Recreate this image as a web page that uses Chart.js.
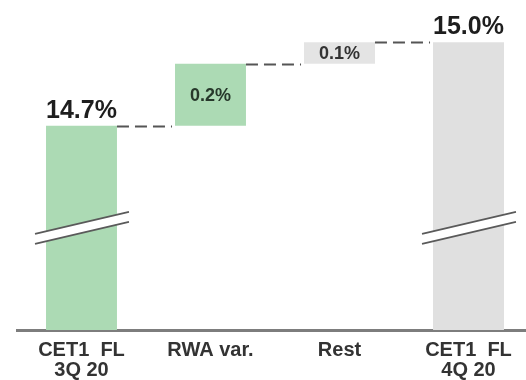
<!DOCTYPE html>
<html>
<head>
<meta charset="utf-8">
<script src="https://cdn.jsdelivr.net/npm/chart.js@4"></script>
<style>
  html, body { margin: 0; padding: 0; background: #fff; overflow: hidden; }
  canvas { display: block; }
</style>
</head>
<body>
<canvas id="myChart" width="534" height="380"></canvas>
<script>
// categorias y valores (CET1 fully loaded, 3Q20 -> 4Q20)
const categories = [['CET1  FL', '3Q 20'], 'RWA var.', 'Rest', ['CET1  FL', '4Q 20']];
const values = [14.7, 0.2, 0.07, 14.97];
const kinds = ['total', 'delta', 'delta', 'total'];
const barColors = ['#acdab4', '#acdab4', '#e4e4e4', '#e0e0e0'];

const Y_MIN = 14.04;
const Y_MAX = 15.09;

// barras flotantes: totales desde la base, variaciones desde el acumulado
let running = 0;
const floating = values.map((v, i) => {
    if (kinds[i] === 'total') {
        running = v;
        return [Y_MIN, v];
    }
    const from = running;
    running = running + v;
    return [from, running];
});

const waterfallDeco = {
    id: 'waterfallDeco',
    afterDatasetsDraw(chart) {
        const ctx = chart.ctx;
        const meta = chart.getDatasetMeta(0);
        const y = chart.scales.y;
        const bars = meta.data;

        // lineas discontinuas entre barras
        ctx.save();
        ctx.strokeStyle = '#555';
        ctx.lineWidth = 2;
        ctx.setLineDash([12, 6]);
        for (let i = 0; i < bars.length - 1; i++) {
            const level = floating[i][1];
            const py = Math.round(y.getPixelForValue(level)) + 0.5;
            const x0 = bars[i].x + bars[i].width / 2;
            const x1 = bars[i + 1].x - bars[i + 1].width / 2 - 3;
            ctx.beginPath();
            ctx.moveTo(x0, py);
            ctx.lineTo(x1, py);
            ctx.stroke();
        }
        ctx.restore();

        // marcas de corte del eje en las barras totales
        const breakY = y.getPixelForValue(14.37);
        kinds.forEach((k, i) => {
            if (k !== 'total') return;
            const b = bars[i];
            const xl = b.x - b.width / 2 - 11;
            const xr = b.x + b.width / 2 + 12;
            const half = (xr - xl) / 2;
            const rise = 11;
            ctx.save();
            ctx.fillStyle = '#fff';
            ctx.beginPath();
            ctx.moveTo(xl, breakY + rise - 5);
            ctx.lineTo(xr, breakY - rise - 5);
            ctx.lineTo(xr, breakY - rise + 5);
            ctx.lineTo(xl, breakY + rise + 5);
            ctx.closePath();
            ctx.fill();
            ctx.strokeStyle = '#5a5a5a';
            ctx.lineWidth = 1.6;
            [-5, 5].forEach(off => {
                ctx.beginPath();
                ctx.moveTo(xl, breakY + rise + off);
                ctx.lineTo(xr, breakY - rise + off);
                ctx.stroke();
            });
            ctx.restore();
        });

        // etiquetas de valor
        ctx.save();
        ctx.textAlign = 'center';
        bars.forEach((b, i) => {
            const txt = values[i].toFixed(1) + '%';
            if (kinds[i] === 'total') {
                ctx.font = 'bold 25px "Liberation Sans", Arial, sans-serif';
                ctx.fillStyle = '#1e1e1e';
                ctx.textBaseline = 'alphabetic';
                ctx.fillText(txt, b.x, b.y - 8);
            } else {
                ctx.font = 'bold 18px "Liberation Sans", Arial, sans-serif';
                ctx.fillStyle = i === 1 ? '#27382b' : '#333';
                ctx.textBaseline = 'middle';
                ctx.fillText(txt, b.x, (b.y + b.base) / 2 + 1);
            }
        });
        ctx.restore();
    }
};

const ctx = document.getElementById('myChart').getContext('2d');
const myChart = new Chart(ctx, {
    type: 'bar',
    data: {
        labels: categories,
        datasets: [{
            data: floating,
            backgroundColor: barColors,
            borderWidth: 0,
            barPercentage: 0.55,
            categoryPercentage: 1
        }]
    },
    options: {
        responsive: false,
        animation: false,
        layout: { padding: { left: 17, right: 1, top: 5, bottom: 0 } },
        plugins: {
            legend: { display: false },
            tooltip: { enabled: false }
        },
        scales: {
            x: {
                grid: { display: false, drawTicks: false },
                border: { display: true, color: '#7d7d7d', width: 3 },
                ticks: {
                    color: '#333',
                    padding: 10,
                    maxRotation: 0,
                    autoSkip: false,
                    font: { family: '"Liberation Sans", Arial, sans-serif', size: 20, weight: 'bold', lineHeight: 1.0 }
                },
                afterFit(scale) { scale.height = 50; }
            },
            y: {
                display: false,
                min: Y_MIN,
                max: Y_MAX
            }
        }
    },
    plugins: [waterfallDeco]
});
</script>
</body>
</html>
